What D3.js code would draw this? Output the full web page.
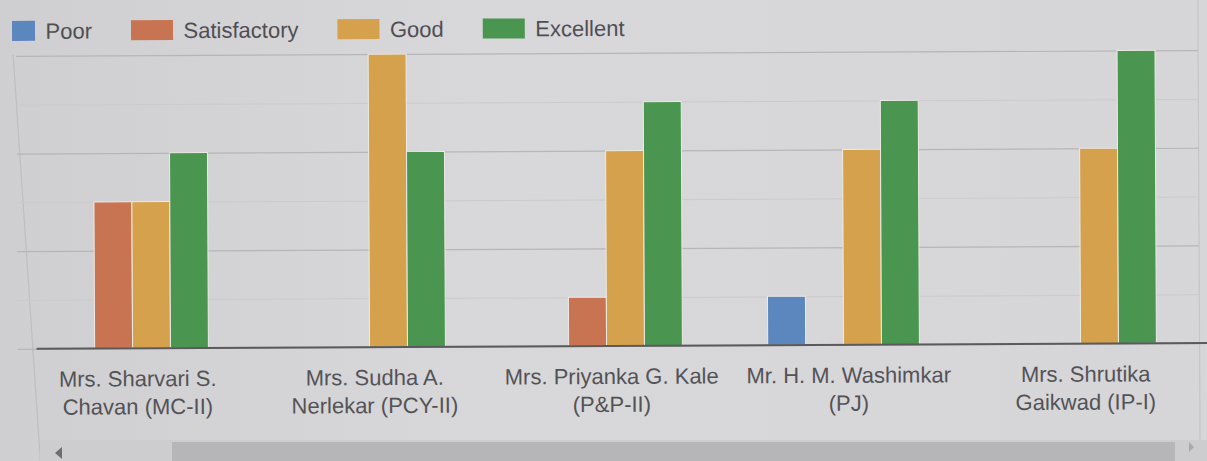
<!DOCTYPE html>
<html>
<head>
<meta charset="utf-8">
<script src="https://cdn.jsdelivr.net/npm/d3@7"></script>
<style>
  html, body { margin: 0; padding: 0; background: #d2d1d3; }
  svg { display: block; }
  text { font-family: "Liberation Sans", Arial, sans-serif; }
</style>
</head>
<body>
<svg id="chart" width="1207" height="461"></svg>
<script>
// Feedback counts per teacher, by rating
const teachers = [
  ["Mrs. Sharvari S.", "Chavan (MC-II)"],
  ["Mrs. Sudha A.", "Nerlekar (PCY-II)"],
  ["Mrs. Priyanka G. Kale", "(P&P-II)"],
  ["Mr. H. M. Washimkar", "(PJ)"],
  ["Mrs. Shrutika", "Gaikwad (IP-I)"]
];
const ratings = ["Poor", "Satisfactory", "Good", "Excellent"];
const poor         = [0, 0, 0, 1, 0];
const satisfactory = [3, 0, 1, 0, 0];
const good         = [3, 6, 4, 4, 4];
const excellent    = [4, 4, 5, 5, 6];
const yTicks = [0, 1, 2, 3, 4, 5, 6];
const colors = ["#5b86be", "#c87452", "#d6a14c", "#4a9550"];

const seriesValues = [poor, satisfactory, good, excellent];
const rows = teachers.map((t, i) => ({
  key: i,
  label: t,
  values: ratings.map((r, j) => ({ rating: r, value: seriesValues[j][i] }))
}));

const W = 1207, H = 461;
const svg = d3.select("#chart");

// soft background tones
const defs = svg.append("defs");
const bg = defs.append("linearGradient").attr("id", "bg").attr("x1", 0).attr("x2", 1).attr("y1", 0).attr("y2", 0);
bg.append("stop").attr("offset", 0).attr("stop-color", "#cfced0");
bg.append("stop").attr("offset", 0.4).attr("stop-color", "#d8d7d9");
bg.append("stop").attr("offset", 1).attr("stop-color", "#d6d5d7");
svg.append("rect").attr("width", W).attr("height", H).attr("fill", "url(#bg)");

const g = svg.append("g").attr("transform", "rotate(-0.28, 603, 230)");

// plot area geometry
const x0 = d3.scaleBand()
  .domain(rows.map(d => d.key))
  .range([13.5, 1198.5])
  .paddingInner(0.36)
  .paddingOuter(0.18);
const x1 = d3.scaleBand()
  .domain(ratings)
  .range([0, x0.bandwidth()])
  .padding(0);
const y = d3.scaleLinear().domain([0, 6]).range([346, 53]);

// chart frame
g.append("line").attr("x1", 14).attr("y1", 52).attr("x2", 40).attr("y2", 470)
  .attr("stroke", "#bfbec0").attr("stroke-width", 1.2);
g.append("line").attr("x1", 1199).attr("y1", 0).attr("x2", 1199).attr("y2", 470)
  .attr("stroke", "#c6c5c7").attr("stroke-width", 1.2);

// gridlines: major on even values, minor on odd
const yAxis = d3.axisLeft(y).tickValues(yTicks).tickSize(-(1199 - 17)).tickFormat("");
const grid = g.append("g").attr("transform", "translate(17,0)").call(yAxis);
grid.select(".domain").remove();
grid.selectAll(".tick line")
  .attr("stroke", d => d % 2 === 0 ? "#b6b5b8" : "#cbcacd")
  .attr("stroke-width", d => d % 2 === 0 ? 1.2 : 1);

// bars
const groups = g.append("g").selectAll("g")
  .data(rows).join("g")
  .attr("transform", d => `translate(${x0(d.key)},0)`);
groups.selectAll("rect")
  .data(d => d.values.filter(v => v.value > 0))
  .join("rect")
  .attr("x", d => x1(d.rating))
  .attr("width", x1.bandwidth())
  .attr("y", d => y(d.value))
  .attr("height", d => y(0) - y(d.value))
  .attr("fill", d => colors[ratings.indexOf(d.rating)])
  .attr("stroke", "#ecebe6")
  .attr("stroke-width", 1);

// baseline
g.append("line").attr("x1", 36).attr("x2", 1207).attr("y1", y(0)).attr("y2", y(0))
  .attr("stroke", "#5a5a5c").attr("stroke-width", 2);

// category labels
const xAxis = d3.axisBottom(x0).tickSize(0).tickFormat("");
const xa = g.append("g").attr("transform", `translate(0,${y(0)})`).call(xAxis);
xa.select(".domain").remove();
xa.selectAll(".tick").each(function(k) {
  const t = d3.select(this).append("text")
    .attr("text-anchor", "middle")
    .attr("fill", "#535357")
    .attr("font-size", 22)
    .attr("x", 5);
  rows[k].label.forEach((line, i) => {
    t.append("tspan").attr("x", 5).attr("y", 38 + i * 28).text(line);
  });
});

// legend
const swatchW = [23, 42, 42, 42];
const legend = g.append("g").attr("transform", "translate(0,28)");
let lx = 13;
ratings.forEach((r, i) => {
  const item = legend.append("g");
  item.append("rect").attr("x", lx).attr("y", -10).attr("width", swatchW[i]).attr("height", 20)
    .attr("fill", colors[i]);
  const tx = lx + swatchW[i] + 10.5;
  const t = item.append("text").attr("x", tx).attr("y", 8)
    .attr("font-size", 22).attr("fill", "#4f4f53").text(r);
  lx = tx + t.node().getComputedTextLength() + 39;
});

// horizontal scrollbar below the chart
svg.append("rect").attr("x", 40).attr("y", 440).attr("width", 1167).attr("height", 21).attr("fill", "#cdcccf");
svg.append("rect").attr("x", 172).attr("y", 442).attr("width", 1003).attr("height", 19).attr("fill", "#b6b5b8");
svg.append("path").attr("d", "M55,453 L62,447 L62,459 Z").attr("fill", "#6e6e72");
svg.append("path").attr("d", "M1189,442 L1194,447 L1189,452 Z").attr("fill", "#a9a8ab");
</script>
</body>
</html>
